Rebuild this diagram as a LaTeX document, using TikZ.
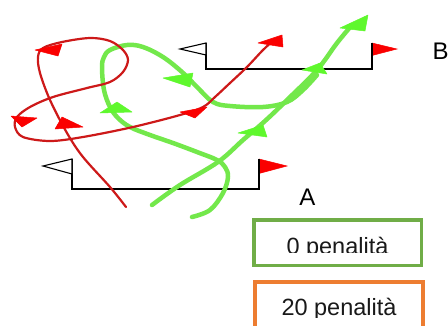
\documentclass[tikz,border=0pt]{standalone}
\usepackage{fontspec}
\setmainfont{Liberation Sans}
\definecolor{redline}{RGB}{205,25,25}
\definecolor{redhead}{RGB}{250,0,0}
\definecolor{greenline}{RGB}{115,232,75}
\definecolor{greenhead}{RGB}{95,248,45}
\definecolor{boxgreen}{RGB}{112,173,71}
\definecolor{boxorange}{RGB}{237,125,49}
\tikzset{
  redpath/.style={draw=redline, line width=2.2pt, line cap=round, line join=round},
  greenpath/.style={draw=greenline, line width=4.5pt, line cap=round, line join=round},
  redtip/.style={fill=redhead, draw=redhead, line width=0.5pt, line join=round},
  greentip/.style={fill=greenhead, draw=greenhead, line width=0.5pt, line join=round},
  gateline/.style={draw=black, line width=1.4pt},
  whiteflag/.style={draw=black, fill=white, line width=1.1pt, line join=miter},
  redflag/.style={fill=redhead, draw=redhead, line width=0.5pt},
  bigtext/.style={font=\fontsize{24}{28}\selectfont, inner sep=0pt},
  boxtext/.style={font=\fontsize{23.5}{28}\selectfont, inner sep=0pt, text=black!90, anchor=base}
}
\begin{document}
\begin{tikzpicture}[x=1pt,y=-1pt]
\clip (0,0) rectangle (448,325);
\fill[white] (0,0) rectangle (448,325);

% gate B
\coordinate (bl) at (206,43);
\coordinate (br) at (372,43);
\draw[gateline] (206,43) -- (206,69) -- (372,69) -- (372,43);
\draw[whiteflag] (206,43) -- (180,49) -- (206,55) -- cycle;
\fill[redflag] (372,43) -- (397,49) -- (372,55.5) -- cycle;
\draw[black, line width=1.4pt] (372,43) -- (372,56);

% gate A
\draw[gateline] (72,159) -- (72,189) -- (259,189) -- (259,159);
\draw[whiteflag] (72,159) -- (43,166) -- (72,174) -- cycle;
\fill[redflag] (259,159) -- (287,166) -- (259,173.5) -- cycle;
\draw[black, line width=1.4pt] (259,159) -- (259,174);

% green straight line
\draw[greenpath] plot[smooth, tension=0.6] coordinates {(152,205) (180,185) (218,162) (243,140) (265,121) (287,100) (317,70) (337,43) (352,25)};
% green loop
\draw[greenpath] plot[smooth, tension=0.6] coordinates {(192,217) (210,210) (223,193) (228,177) (225,167) (217,160) (197,152) (173,143) (150,135) (130,127) (118,118) (110,107) (104,90) (102,67) (104,57) (110,50) (127,45) (143,47) (163,57) (182,72) (197,87) (213,102) (230,106) (263,107) (287,102) (303,90) (317,75)};

% green arrowheads
\filldraw[greentip] (340,28) -- (368,15) -- (365,31) -- cycle;
\filldraw[greentip] (302,70) -- (320,63) -- (327,74) -- cycle;
\filldraw[greentip] (238,133) -- (263,125) -- (267,137) -- cycle;
\filldraw[greentip] (100,113) -- (117,102) -- (132,112) -- cycle;
\filldraw[greentip] (163,78) -- (193,73) -- (190,87) -- cycle;

% red path
\draw[redpath] plot[smooth, tension=0.55] coordinates {(126,207) (110,187) (83,157) (67,133) (50,100) (40,73) (38,57) (43,48) (62,42) (90,38) (110,41) (123,50) (128,60) (123,72) (110,82) (87,88) (53,97) (30,107) (17,117) (15,127) (23,137) (50,141) (83,137) (133,127) (180,115) (203,107) (215,97) (230,83) (247,67) (263,50) (274,40)};

% red arrowheads
\filldraw[redtip] (35,50) -- (62,44) -- (58,56) -- cycle;
\filldraw[redtip] (11,116) -- (37,118) -- (22,127) -- cycle;
\filldraw[redtip] (62,117) -- (83,127) -- (55,129) -- cycle;
\filldraw[redtip] (180,112) -- (207,107) -- (195,118) -- cycle;
\filldraw[redtip] (258,43) -- (282,35) -- (283,47) -- cycle;

% labels
\node[bigtext] (labA) at (307.5,197.5) {A};
\node[bigtext, anchor=west] (labB) at (432.5,51.5) {B};

% boxes
\draw[boxgreen, line width=3.5pt] (253.75,219.75) rectangle (421.25,265.25);
\begin{scope}
\clip (254,220) rectangle (421,252.5);
\node[boxtext] (t0) at (337.5,254.5) {0 penalità};
\end{scope}
\draw[boxorange, line width=4pt] (255,282) rectangle (423,345);
\begin{scope}
\clip (255,282) rectangle (423,317);
\node[boxtext] (t20) at (339,315.5) {20 penalità};
\end{scope}
\end{tikzpicture}
\end{document}
